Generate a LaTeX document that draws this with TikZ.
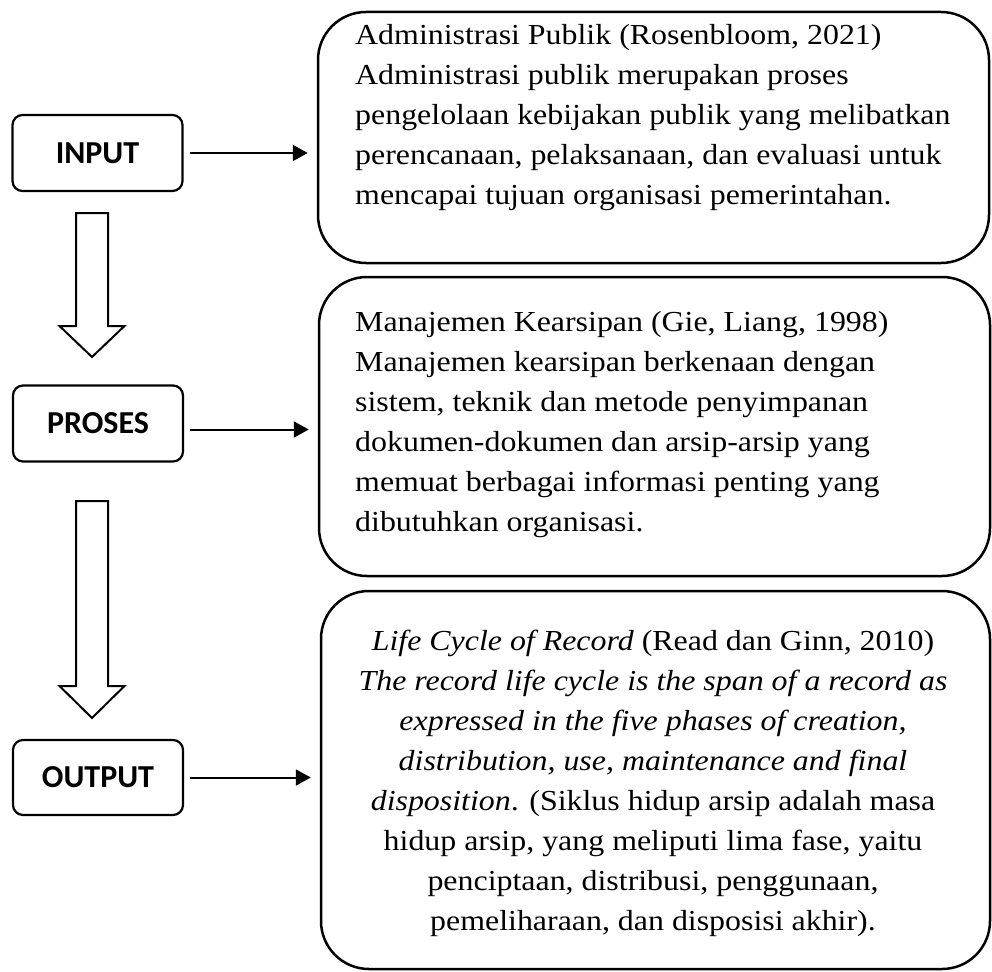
\documentclass[tikz,border=0pt]{standalone}
\usepackage{fontspec}
\setmainfont{Liberation Serif}[FakeStretch=1.1]
\newfontfamily\labelfont{Carlito}
\usetikzlibrary{arrows.meta}
\begin{document}
\begin{tikzpicture}[x=1pt,y=-1pt,
  leftbox/.style={draw, line width=2.2pt, rounded corners=10pt, minimum width=170pt, minimum height=76pt, font=\labelfont\bfseries\fontsize{32}{38}\selectfont, inner sep=0pt},
  bigbox/.style={draw, line width=2.5pt, rounded corners=48pt, inner sep=0pt},
  bodytext/.style={font=\fontsize{29}{40}\selectfont, inner sep=0pt},
  harrow/.style={line width=2pt, -{Triangle[length=15pt,width=16pt]}, shorten <=6pt, shorten >=9pt},
  blockarrow/.style={draw, line width=2pt, fill=white, line join=miter}
]
\useasboundingbox (0,0) rectangle (992,971);
% left boxes
\node[leftbox] (input) at (97.5,153) {INPUT};
\node[leftbox] (proses) at (98,423.5) {PROSES};
\node[leftbox, minimum height=75pt] (output) at (98,777.5) {OUTPUT};
% right boxes
\node[bigbox, minimum width=671pt, minimum height=251pt] (b1) at (653.5,137.5) {};
\node[bigbox, minimum width=671pt, minimum height=299pt] (b2) at (654.5,426.5) {};
\node[bigbox, minimum width=669pt, minimum height=378pt] (b3) at (655.5,780) {};
% texts (base anchor = baseline of the last line)
\node[bodytext, anchor=base west, align=left] (t1) at (355,204) {Administrasi Publik (Rosenbloom, 2021)\\
Administrasi publik merupakan proses\\
pengelolaan kebijakan publik yang melibatkan\\
perencanaan, pelaksanaan, dan evaluasi untuk\\
mencapai tujuan organisasi pemerintahan.};
\node[bodytext, anchor=base west, align=left] (t2) at (355,531) {Manajemen Kearsipan (Gie, Liang, 1998)\\
Manajemen kearsipan berkenaan dengan\\
sistem, teknik dan metode penyimpanan\\
dokumen-dokumen dan arsip-arsip yang\\
memuat berbagai informasi penting yang\\
dibutuhkan organisasi.};
\node[bodytext, anchor=base, align=center] (t3) at (653,930) {\textit{Life Cycle of Record} (Read dan Ginn, 2010)\\
\textit{The record life cycle is the span of a record as}\\
\textit{expressed in the five phases of creation,}\\
\textit{distribution, use, maintenance and final}\\
\textit{disposition}. (Siklus hidup arsip adalah masa\\
hidup arsip, yang meliputi lima fase, yaitu\\
penciptaan, distribusi, penggunaan,\\
pemeliharaan, dan disposisi akhir).};
% horizontal connectors
\draw[harrow] (input.east) -- (input.east -| b1.west);
\draw[harrow] ([yshift=-6pt]proses.east) -- ([yshift=-6pt]proses.east -| b2.west);
\draw[harrow] (output.east) -- (output.east -| b3.west);
% block arrows
\draw[blockarrow] (76,213) -- (108,213) -- (108,326) -- (124.5,326) -- (92,357) -- (59.5,326) -- (76,326) -- cycle;
\draw[blockarrow] (76,501) -- (108,501) -- (108,686) -- (124.5,686) -- (92,718) -- (59.5,686) -- (76,686) -- cycle;
\end{tikzpicture}
\end{document}
